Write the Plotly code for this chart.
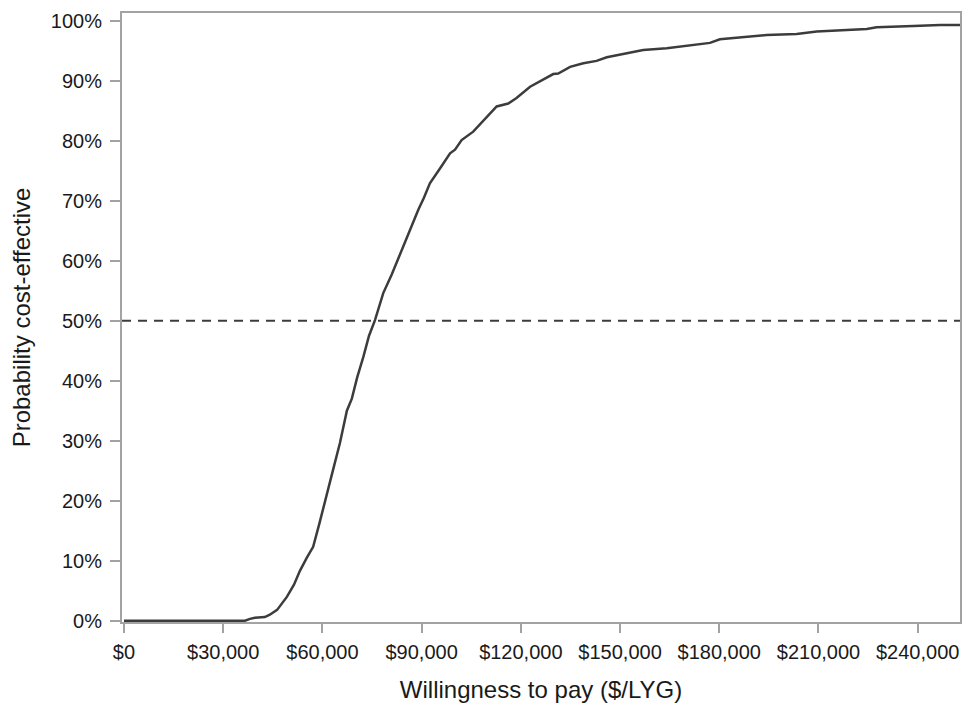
import plotly.graph_objects as go

# Willingness to pay ($/LYG) and probability cost-effective (fraction)
wtp = [0, 36600, 38100, 39600, 42600, 44100, 46300, 49300, 51400, 53200, 55300,
       57200, 59000, 60800, 63200, 65300, 66300, 67400, 68900, 70500, 72400,
       74100, 75900, 78400, 80900, 84000, 86500, 89000, 90700, 92500, 95600,
       98600, 100100, 102100, 105600, 109700, 112700, 116200, 118700, 122800,
       126800, 129800, 131300, 134900, 138900, 142900, 146000, 153000, 157000,
       164100, 174200, 177200, 180200, 187300, 194300, 203400, 209500, 224600,
       227600, 238700, 246800, 252800]
prob = [0.0, 0.0, 0.003, 0.005, 0.006, 0.010, 0.018, 0.040, 0.060, 0.083, 0.105,
        0.123, 0.160, 0.201, 0.251, 0.296, 0.323, 0.350, 0.370, 0.405, 0.440,
        0.475, 0.501, 0.546, 0.576, 0.618, 0.651, 0.685, 0.705, 0.729, 0.754,
        0.779, 0.785, 0.801, 0.815, 0.840, 0.857, 0.862, 0.871, 0.890,
        0.902, 0.911, 0.912, 0.923, 0.929, 0.933, 0.939, 0.946, 0.951,
        0.954, 0.961, 0.963, 0.969, 0.973, 0.976, 0.978, 0.982, 0.986,
        0.989, 0.991, 0.993, 0.993]

x_ticks = [0, 30000, 60000, 90000, 120000, 150000, 180000, 210000, 240000]
x_tick_labels = ["$0", "$30,000", "$60,000", "$90,000", "$120,000", "$150,000",
                 "$180,000", "$210,000", "$240,000"]
y_ticks = [0, 0.1, 0.2, 0.3, 0.4, 0.5, 0.6, 0.7, 0.8, 0.9, 1.0]
y_tick_labels = ["0%", "10%", "20%", "30%", "40%", "50%", "60%", "70%", "80%",
                 "90%", "100%"]
threshold = 0.5

FONT = "Liberation Sans, Arial, sans-serif"
AXIS_GREY = "#a3a3a3"
LINE = "#3c3c3c"

fig = go.Figure()
fig.add_trace(go.Scatter(x=wtp, y=prob, mode="lines",
                         line=dict(color=LINE, width=2.5), showlegend=False,
                         hoverinfo="skip"))
fig.add_shape(type="line", xref="paper", x0=0, x1=1, yref="y", y0=threshold, y1=threshold,
              line=dict(color=LINE, width=2, dash="9px,7px"))

fig.update_layout(
    width=963, height=697,
    margin=dict(l=114, r=11, t=5, b=83),
    paper_bgcolor="white", plot_bgcolor="white",
    font=dict(family=FONT, size=20, color="#1a1a1a"),
    showlegend=False,
)
fig.update_xaxes(
    range=[-600, 252800], tickvals=x_ticks, ticktext=x_tick_labels,
    showgrid=False, zeroline=False, automargin=False,
    showline=True, linecolor=AXIS_GREY, linewidth=2, mirror=True,
    ticks="outside", ticklen=9, tickwidth=2, tickcolor=AXIS_GREY,
    ticklabelstandoff=2,
    title=dict(text="Willingness to pay ($/LYG)", font=dict(size=24), standoff=19),
)
fig.update_yaxes(
    range=[-0.0022, 1.0128], tickvals=y_ticks, ticktext=y_tick_labels,
    showgrid=False, zeroline=False, automargin=False,
    showline=True, linecolor=AXIS_GREY, linewidth=2, mirror=True,
    ticks="outside", ticklen=10, tickwidth=2, tickcolor=AXIS_GREY,
    ticklabelstandoff=4,
    title=dict(text="Probability cost-effective", font=dict(size=24), standoff=15),
)

fig.write_html("out.html")
